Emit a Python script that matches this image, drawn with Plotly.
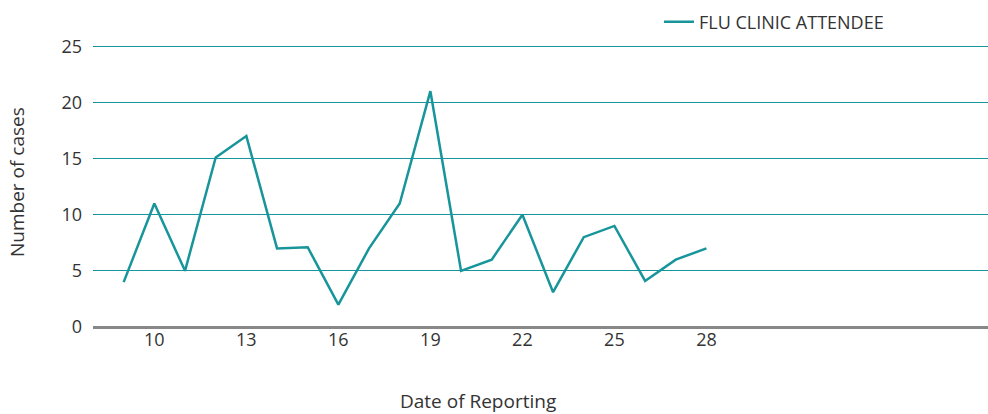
import plotly.graph_objects as go

dates = list(range(9, 29))
cases = [4, 11, 5, 15.1, 17, 7, 7.1, 2, 7, 11, 21, 5, 6, 10, 3.1, 8, 9, 4.1, 6, 7]
x_ticks = [10, 13, 16, 19, 22, 25, 28]
y_ticks = [0, 5, 10, 15, 20, 25]

teal = "#17959b"
font_fam = "Open Sans, sans-serif"

W, H, L, R, T, B = 988, 414, 93, 0, 44, 87
pw, ph = W - L - R, H - T - B

fig = go.Figure()
fig.add_trace(go.Scatter(
    x=dates, y=cases, mode="lines", name="FLU CLINIC ATTENDEE",
    line=dict(color=teal, width=2.5),
))

fig.update_layout(
    width=W, height=H,
    margin=dict(l=L, r=R, t=T, b=B),
    paper_bgcolor="white", plot_bgcolor="white",
    font=dict(family=font_fam, color="#333333"),
    showlegend=True,
    legend=dict(orientation="h", xref="container", yref="container",
                x=659 / W, y=1 - 22 / H, xanchor="left", yanchor="middle",
                font=dict(size=18, color="#333333"), bgcolor="rgba(0,0,0,0)"),
    xaxis=dict(range=[8, 37.18], tickvals=x_ticks, showgrid=False, zeroline=False,
               showline=False, ticks="", tickfont=dict(size=18), automargin=False),
    yaxis=dict(range=[0, 25.2], tickvals=y_ticks, showgrid=True, gridcolor=teal, gridwidth=1,
               zeroline=True, zerolinecolor="#888888", zerolinewidth=3,
               showline=False, ticks="", tickfont=dict(size=18), ticklabelstandoff=10,
               automargin=False),
    annotations=[
        dict(text="Date of Reporting", xref="paper", yref="paper",
             x=(478 - L) / pw, y=(H - B - 401) / ph,
             xanchor="center", yanchor="middle", showarrow=False, font=dict(size=19)),
        dict(text="Number of cases", xref="paper", yref="paper",
             x=(17 - L) / pw, y=(H - B - 182) / ph,
             xanchor="center", yanchor="middle", textangle=-90, showarrow=False, font=dict(size=19)),
    ],
)

fig.write_html("out.html", config={"displayModeBar": False},
               post_script="document.body.style.margin='0';document.body.style.overflow='hidden';")
